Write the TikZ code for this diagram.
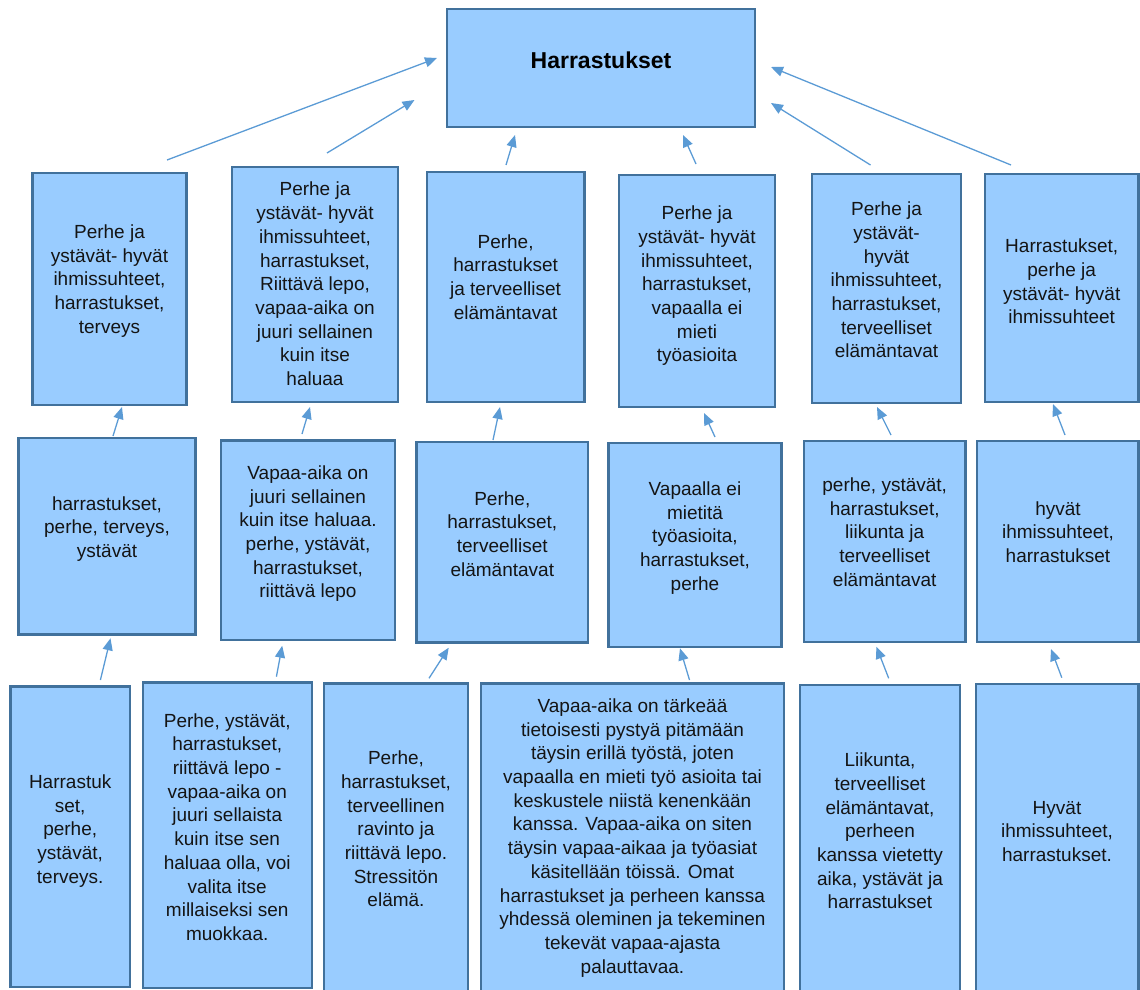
\documentclass[tikz,border=0pt]{standalone}
\usepackage{fontspec}
\setmainfont{Liberation Sans}
\usetikzlibrary{arrows.meta}

\definecolor{boxfill}{HTML}{99CCFF}
\definecolor{boxline}{HTML}{41719C}
\definecolor{arrowcol}{HTML}{5B9BD5}
\definecolor{txtcol}{HTML}{141414}

% box: name, left, top, right, bottom (pixel coordinates, y downwards)
\newcommand\mybox[5]{%
  \node[boxst, minimum width={#4-#2}, minimum height={#5-#3}] (#1)
    at ({(#2+#4)/2},{(#3+#5)/2}) {};}

\begin{document}
\begin{tikzpicture}[x=1pt, y=-1pt,
  boxst/.style={draw=boxline, fill=boxfill, line width=2.2pt, inner sep=0pt, outer sep=0pt},
  txt/.style={font=\fontsize{19}{23.7}\selectfont, align=center, inner sep=0pt, text=txtcol},
  arr/.style={draw=arrowcol, line width=1.3pt, -{Triangle[length=12pt, width=10pt]}}]

\useasboundingbox (0,0) rectangle (1140,990);
\clip (0,0) rectangle (1140,990);

% top box
\mybox{top}{447}{9}{755}{127}
\node[font=\fontsize{23}{27}\selectfont\bfseries, text=black, anchor=base, inner sep=0pt] (toptxt) at (601,68) {Harrastukset};

% first row
\mybox{b1}{32.5}{173}{186.5}{405}
\mybox{b2}{232}{167}{398}{402}
\mybox{b3}{426.7}{172}{584.5}{401.7}
\mybox{b4}{619}{175}{775}{407}
\mybox{b5}{812}{174}{961}{403}
\mybox{b6}{985}{174}{1138.5}{401.7}

\node[txt] (b1t) at (109.5,281) {\strut Perhe ja\\ystävät- hyvät\\ihmissuhteet,\\harrastukset,\\terveys\strut};
\node[txt] (b2t) at (315,286) {\strut Perhe ja\\ystävät- hyvät\\ihmissuhteet,\\harrastukset,\\Riittävä lepo,\\vapaa-aika on\\juuri sellainen\\kuin itse\\haluaa\strut};
\node[txt] (b3t) at (505.6,279) {\strut Perhe,\\harrastukset\\ja terveelliset\\elämäntavat\strut};
\node[txt] (b4t) at (697,286) {\strut Perhe ja\\ystävät- hyvät\\ihmissuhteet,\\harrastukset,\\vapaalla ei\\mieti\\työasioita\strut};
\node[txt] (b5t) at (886.5,282) {\strut Perhe ja\\ystävät-\\hyvät\\ihmissuhteet,\\harrastukset,\\terveelliset\\elämäntavat\strut};
\node[txt] (b6t) at (1061.7,283.5) {\strut Harrastukset,\\perhe ja\\ystävät- hyvät\\ihmissuhteet\strut};

% second row
\mybox{c1}{18.4}{437.7}{195.5}{634.5}
\mybox{c2}{221}{440.5}{395}{640}
\mybox{c3}{416.4}{441.7}{588.3}{642.5}
\mybox{c4}{608.5}{442.7}{781.5}{646.7}
\mybox{c5}{804}{441}{965.5}{642}
\mybox{c6}{977.3}{441}{1138.5}{642}

\node[txt] (c1t) at (107,529) {\strut harrastukset,\\perhe, terveys,\\ystävät\strut};
\node[txt] (c2t) at (308,534) {\strut Vapaa-aika on\\juuri sellainen\\kuin itse haluaa.\\perhe, ystävät,\\harrastukset,\\riittävä lepo\strut};
\node[txt] (c3t) at (502.3,536) {\strut Perhe,\\harrastukset,\\terveelliset\\elämäntavat\strut};
\node[txt] (c4t) at (695,538) {\strut Vapaalla ei\\mietitä\\työasioita,\\harrastukset,\\perhe\strut};
\node[txt] (c5t) at (884.7,534) {\strut perhe, ystävät,\\harrastukset,\\liikunta ja\\terveelliset\\elämäntavat\strut};
\node[txt] (c6t) at (1058,534) {\strut hyvät\\ihmissuhteet,\\harrastukset\strut};

% third row (runs past the lower edge)
\mybox{d1}{10.5}{686.5}{130}{987}
\mybox{d2}{142.8}{682.5}{311.7}{988}
\mybox{d3}{323.8}{683.5}{468.2}{1010}
\mybox{d4}{481}{683.5}{784}{1010}
\mybox{d5}{800}{685}{960}{1010}
\mybox{d6}{976}{684.3}{1138.5}{1010}

\node[txt] (d1t) at (70.2,831) {\strut Harrastuk\\set,\\perhe,\\ystävät,\\terveys.\strut};
\node[txt] (d2t) at (227.2,829) {\strut Perhe, ystävät,\\harrastukset,\\riittävä lepo -\\vapaa-aika on\\juuri sellaista\\kuin itse sen\\haluaa olla, voi\\valita itse\\millaiseksi sen\\muokkaa.\strut};
\node[txt] (d3t) at (396,831) {\strut Perhe,\\harrastukset,\\terveellinen\\ravinto ja\\riittävä lepo.\\Stressitön\\elämä.\strut};
\node[txt] (d4t) at (632.5,838) {\strut Vapaa-aika on tärkeää\\tietoisesti pystyä pitämään\\täysin erillä työstä, joten\\vapaalla en mieti työ asioita tai\\keskustele niistä kenenkään\\kanssa. Vapaa-aika on siten\\täysin vapaa-aikaa ja työasiat\\käsitellään töissä. Omat\\harrastukset ja perheen kanssa\\yhdessä oleminen ja tekeminen\\tekevät vapaa-ajasta\\palauttavaa.\strut};
\node[txt] (d5t) at (880,833) {\strut Liikunta,\\terveelliset\\elämäntavat,\\perheen\\kanssa vietetty\\aika, ystävät ja\\harrastukset\strut};
\node[txt] (d6t) at (1057,833) {\strut Hyvät\\ihmissuhteet,\\harrastukset.\strut};

% arrow ends: into the top box
\coordinate (t1s) at (167,160);   \coordinate (t1e) at (437,58);
\coordinate (t2s) at (327,153);   \coordinate (t2e) at (414.5,100);
\coordinate (t3s) at (506,165);   \coordinate (t3e) at (515,135);
\coordinate (t4s) at (696,164);   \coordinate (t4e) at (683,135);
\coordinate (t5s) at (870.5,165); \coordinate (t5e) at (771,103);
\coordinate (t6s) at (1011,165);  \coordinate (t6e) at (771,67);
% second row to first row
\coordinate (m1s) at (113,436);   \coordinate (m1e) at (122,407);
\coordinate (m2s) at (302,434);   \coordinate (m2e) at (310,407);
\coordinate (m3s) at (493,440);   \coordinate (m3e) at (500,407);
\coordinate (m4s) at (715,437);   \coordinate (m4e) at (704,413);
\coordinate (m5s) at (891,435);   \coordinate (m5e) at (877,407);
\coordinate (m6s) at (1065,435);  \coordinate (m6e) at (1053,404);
% third row to second row
\coordinate (l1s) at (100.4,680);   \coordinate (l1e) at (110.5,638.3);
\coordinate (l2s) at (276.4,676.7); \coordinate (l2e) at (282.2,645.7);
\coordinate (l3s) at (429,678.3);   \coordinate (l3e) at (448.7,647.7);
\coordinate (l4s) at (689.5,680);   \coordinate (l4e) at (680,648.3);
\coordinate (l5s) at (888.7,678.3); \coordinate (l5e) at (876.4,646.7);
\coordinate (l6s) at (1061.8,677.7);\coordinate (l6e) at (1051,649);

\foreach \a in {t1,t2,t3,t4,t5,t6,m1,m2,m3,m4,m5,m6,l1,l2,l3,l4,l5,l6}
  \draw[arr] (\a s) -- (\a e);

\end{tikzpicture}
\end{document}
